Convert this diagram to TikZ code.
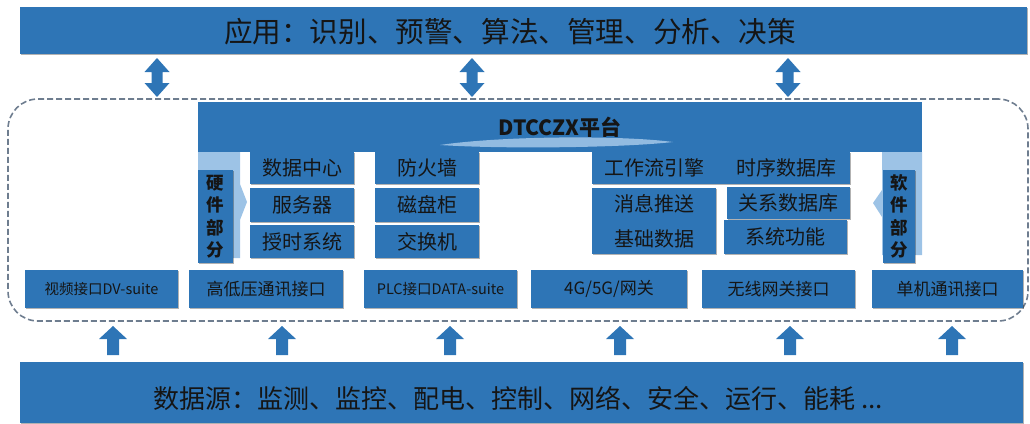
\documentclass[tikz,border=0pt]{standalone}
\usepackage{fontspec}
\setmainfont{Noto Sans CJK SC}
\usetikzlibrary{shadows}
\definecolor{dkb}{HTML}{2E75B6}
\definecolor{ltb}{HTML}{9DC3E6}
\definecolor{dsh}{HTML}{6E7D8F}
\definecolor{txt}{HTML}{151515}
\begin{document}
\begin{tikzpicture}[x=1pt,y=-1pt,
  blk/.style={fill=dkb, draw=none, inner sep=0pt, text=txt,
    drop shadow={shadow xshift=1.2pt,shadow yshift=-1.4pt,opacity=.3,fill=black}},
  flat/.style={fill=dkb, draw=none, inner sep=0pt, text=txt},
  lbl/.style={inner sep=0pt, text=txt},
  f20/.style={font=\fontsize{20}{24}\selectfont},
  f17/.style={font=\fontsize{17}{20}\selectfont},
  f15/.style={font=\fontsize{14.5}{18}\selectfont},
  vert/.style={align=center, font=\bfseries\fontsize{17.5}{22.5}\selectfont},
  pics/dblarr/.style={code={
    \fill[dkb] (0,-19.5) -- (12.5,-5.5) -- (5.5,-5.5) -- (5.5,5.5) -- (12.5,5.5)
      -- (0,19.5) -- (-12.5,5.5) -- (-5.5,5.5) -- (-5.5,-5.5) -- (-12.5,-5.5) -- cycle;}},
  pics/uparr/.style={code={
    \fill[dkb] (0,0) -- (14,13) -- (6,13) -- (6,29) -- (-6,29) -- (-6,13) -- (-14,13) -- cycle;}}
]
\useasboundingbox (0,0) rectangle (1030,423);

% dashed frame
\node[draw=dsh, line width=1.6pt, dash pattern=on 6pt off 3pt, rounded corners=30pt,
  minimum width=1020pt, minimum height=222pt, inner sep=0pt] (frame) at (518,210) {};

% top application bar
\node[blk, minimum width=1007pt, minimum height=47pt] (app) at (523.5,30.5) {};
\node[lbl, font=\fontsize{28.6}{32}\selectfont] (apptxt) at (510,32) {应用：识别、预警、算法、管理、分析、决策};

% bottom source bar
\node[blk, minimum width=1003pt, minimum height=61pt] (src) at (521.5,392.5) {};
\node[lbl, font=\fontsize{26}{30}\selectfont] (srctxt) at (518,398) {数据源：监测、监控、配电、控制、网络、安全、运行、能耗 ...};

% double arrows
\coordinate (d1) at (157,77.5);
\coordinate (d2) at (472,77.5);
\coordinate (d3) at (788,77.5);
\pic at (d1) {dblarr};
\pic at (d2) {dblarr};
\pic at (d3) {dblarr};

% up arrows
\foreach \x [count=\i] in {113,282,450,620,790,952}{
  \coordinate (u\i) at (\x,326);
  \pic at (u\i) {uparr};
}

% platform bar
\node[flat, minimum width=724pt, minimum height=50pt] (plat) at (560,127) {};
\fill[ltb, opacity=.9] (440,145) .. controls (500,136) and (620,135) .. (673,142)
  .. controls (620,148) and (500,149) .. (440,145) -- cycle;
\node[lbl, font=\bfseries\fontsize{21}{24}\selectfont] (plattxt) at (560,127) {DTCCZX平台};

% hardware part
\fill[ltb] (198,152) -- (240,152) -- (240,184) -- (247,202) -- (240,220) -- (240,258) -- (198,258) -- cycle;
\node[blk, minimum width=35pt, minimum height=93pt, vert] (hw) at (215.5,216.5) {硬\\件\\部\\分};

\node[blk, f20, minimum width=104pt, minimum height=32pt] (h11) at (302,168) {数据中心};
\node[blk, f20, minimum width=104pt, minimum height=34pt] (h12) at (302,205) {服务器};
\node[blk, f20, minimum width=104pt, minimum height=33pt] (h13) at (302,241.5) {授时系统};
\node[blk, f20, minimum width=104pt, minimum height=32pt] (h21) at (427,168) {防火墙};
\node[blk, f20, minimum width=104pt, minimum height=34pt] (h22) at (427,205) {磁盘柜};
\node[blk, f20, minimum width=104pt, minimum height=33pt] (h23) at (427,241.5) {交换机};

% software part
\node[blk, minimum width=258pt, minimum height=32pt] (s1) at (721,168) {};
\node[lbl, f20] (s1a) at (654,168) {工作流引擎};
\node[lbl, f20] (s1b) at (786,168) {时序数据库};
\node[blk, f20, align=center, minimum width=124pt, minimum height=66pt,
  font=\fontsize{20}{35}\selectfont] (s2) at (654,221) {消息推送\\基础数据};
\node[blk, f20, minimum width=123pt, minimum height=32pt] (s3) at (788.5,203) {关系数据库};
\node[blk, f20, minimum width=123pt, minimum height=34pt] (s4) at (785.5,237) {系统功能};

\fill[ltb] (882,152) -- (922,152) -- (922,255) -- (882,255) -- (882,217) -- (873,203) -- (882,190) -- cycle;
\node[blk, minimum width=32pt, minimum height=93pt, vert] (sw) at (899,216.5) {软\\件\\部\\分};

% interfaces
\node[blk, f15, minimum width=153pt, minimum height=38pt] (i1) at (101.5,289) {视频接口DV-suite};
\node[blk, f17, minimum width=154pt, minimum height=38pt] (i2) at (266,289) {高低压通讯接口};
\node[blk, f15, minimum width=153pt, minimum height=38pt] (i3) at (440.5,289) {PLC接口DATA-suite};
\node[blk, f17, minimum width=156pt, minimum height=38pt] (i4) at (609,289) {4G/5G/网关};
\node[blk, f17, minimum width=153pt, minimum height=38pt] (i5) at (778.5,289) {无线网关接口};
\node[blk, f17, minimum width=151pt, minimum height=38pt] (i6) at (947.5,289) {单机通讯接口};
\end{tikzpicture}
\end{document}
